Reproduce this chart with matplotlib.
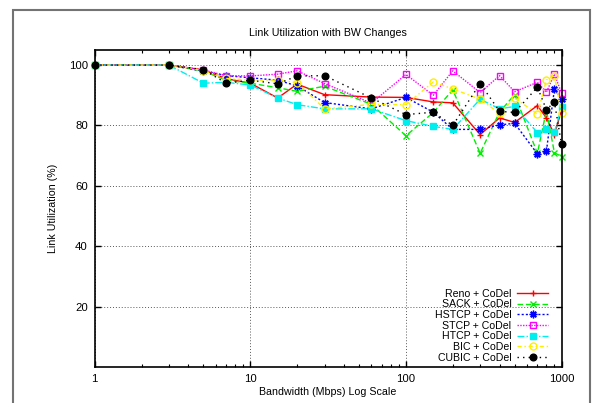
import numpy as np
import matplotlib
matplotlib.use('Agg')
import matplotlib.pyplot as plt
from matplotlib.patches import Rectangle
from matplotlib.ticker import LogLocator, NullFormatter, FixedLocator, FixedFormatter

plt.rcParams['font.family'] = ['Liberation Sans', 'DejaVu Sans']

bandwidth = [1, 3, 5, 7, 10, 15, 20, 30, 60, 100, 150, 200, 300, 400, 500, 700, 800, 900, 1000]

reno = [100, 100, 98.4, 95.5, 94, 89.1, 93.7, 90.2, 89.4, 89.3, 87.8, 87.5, 77, 82.5, 81, 86.6, 82.5, 77, 85]
sack = [100, 100, 98, 95, 94, 92.5, 91.3, 93, 87, 76.6, 84.3, 91.8, 70.8, 84.5, 90.2, 70.8, 85, 71, 69.7]
hstcp = [100, 100, 98, 96.5, 95.8, 95, 93.1, 87.6, 85.5, 89.3, 84.4, 78.7, 78.7, 80.2, 80.7, 70.6, 71.5, 92, 88.8]
stcp = [100, 100, 98.4, 96.5, 96.4, 97, 98.1, 93.9, 87.4, 96.9, 90, 98.1, 90.9, 96.5, 91.2, 94.3, 91, 97, 90.8]
htcp = [100, 100, 94, 94.3, 93.4, 89.1, 86.9, 85.5, 85.5, 81.6, 79.7, 78.7, 88.7, 85.5, 86.3, 77.6, 78.7, 77.7, 86]
bic = [100, 100, 98.2, 95.6, 95, 95, 94.2, 85.5, 87, 86.9, 94.4, 92.1, 88.7, 84, 89.1, 83.8, 95.1, 96.5, 84]
cubic = [100, 100, 98.5, 94, 95, 93.8, 96.4, 96.5, 89.1, 83.6, 84.4, 80, 93.9, 84.7, 84.3, 92.7, 85.2, 87.8, 73.8]

labels = ['Reno + CoDel', 'SACK + CoDel', 'HSTCP + CoDel', 'STCP + CoDel',
          'HTCP + CoDel', 'BIC + CoDel', 'CUBIC + CoDel']

fig = plt.figure(figsize=(5.96, 4.03), dpi=100)
ax = fig.add_axes([94.7 / 596, 1 - 367 / 403, (561.5 - 94.7) / 596, (367 - 50) / 403])

# gnuplot-like styles: colour, dash pattern, point type
styles = [
    dict(color='#ff0000', ls='-', marker='+', ms=5, mfc='#ff0000'),
    dict(color='#00ee00', ls=(0, (4, 2)), marker='x', ms=4.5, mfc='#00ee00'),
    dict(color='#0000ff', ls=(0, (1.5, 1.5)), marker=(8, 2, 0), ms=5.5, mfc='#0000ff'),
    dict(color='#ff00ff', ls=(0, (1, 1)), marker='s', ms=4.5, mfc='none'),
    dict(color='#00eeee', ls=(0, (5, 1.5, 1, 1.5)), marker='s', ms=4.5, mfc='#00eeee'),
    dict(color='#ffee00', ls=(0, (3, 2, 1, 2)), marker='o', ms=5, mfc='none'),
    dict(color='#000000', ls=(0, (1, 3)), marker='o', ms=4.8, mfc='#000000'),
]

series = [reno, sack, hstcp, stcp, htcp, bic, cubic]
for vals, lab, st in zip(series, labels, styles):
    ax.plot(bandwidth, vals, label=lab, lw=1, mew=1, clip_on=False, **st)

ax.set_xscale('log')
ax.set_xlim(1, 1000)
ax.set_ylim(0, 105)

ax.xaxis.set_major_locator(FixedLocator([1, 10, 100, 1000]))
ax.xaxis.set_major_formatter(FixedFormatter(['1', '10', '100', '1000']))
ax.xaxis.set_minor_locator(LogLocator(base=10, subs=np.arange(2, 10)))
ax.xaxis.set_minor_formatter(NullFormatter())
ax.set_yticks([20, 40, 60, 80, 100])

ax.tick_params(which='both', direction='in', top=True, right=True, labelsize=8.2, pad=5)
ax.tick_params(which='major', length=4, width=1)
ax.tick_params(which='minor', length=2.5, width=0.8)
for s in ax.spines.values():
    s.set_linewidth(1.2)

ax.grid(True, which='major', color='0.35', ls=(0, (1, 2)), lw=0.7)
ax.set_axisbelow(True)

ax.set_title('Link Utilization with BW Changes', fontsize=7.7, pad=10)
ax.set_xlabel('Bandwidth (Mbps) Log Scale', fontsize=7.7, labelpad=2)
ax.set_ylabel('Link Utilization (%)', fontsize=7.7, labelpad=8)

leg = ax.legend(loc='lower right', bbox_to_anchor=(0.971, 0.014), frameon=False,
                markerfirst=False, fontsize=7.6, labelspacing=0.06,
                handlelength=2.9, handletextpad=0.57, borderaxespad=0, borderpad=0)

# page border around the whole drawing
fig.patches.append(Rectangle((13 / 596, -0.05), (590 - 13) / 596, 1.05 - 10 / 403,
                             transform=fig.transFigure, fill=False,
                             edgecolor='0.45', lw=1.5))

fig.savefig('out.png', dpi=100)
